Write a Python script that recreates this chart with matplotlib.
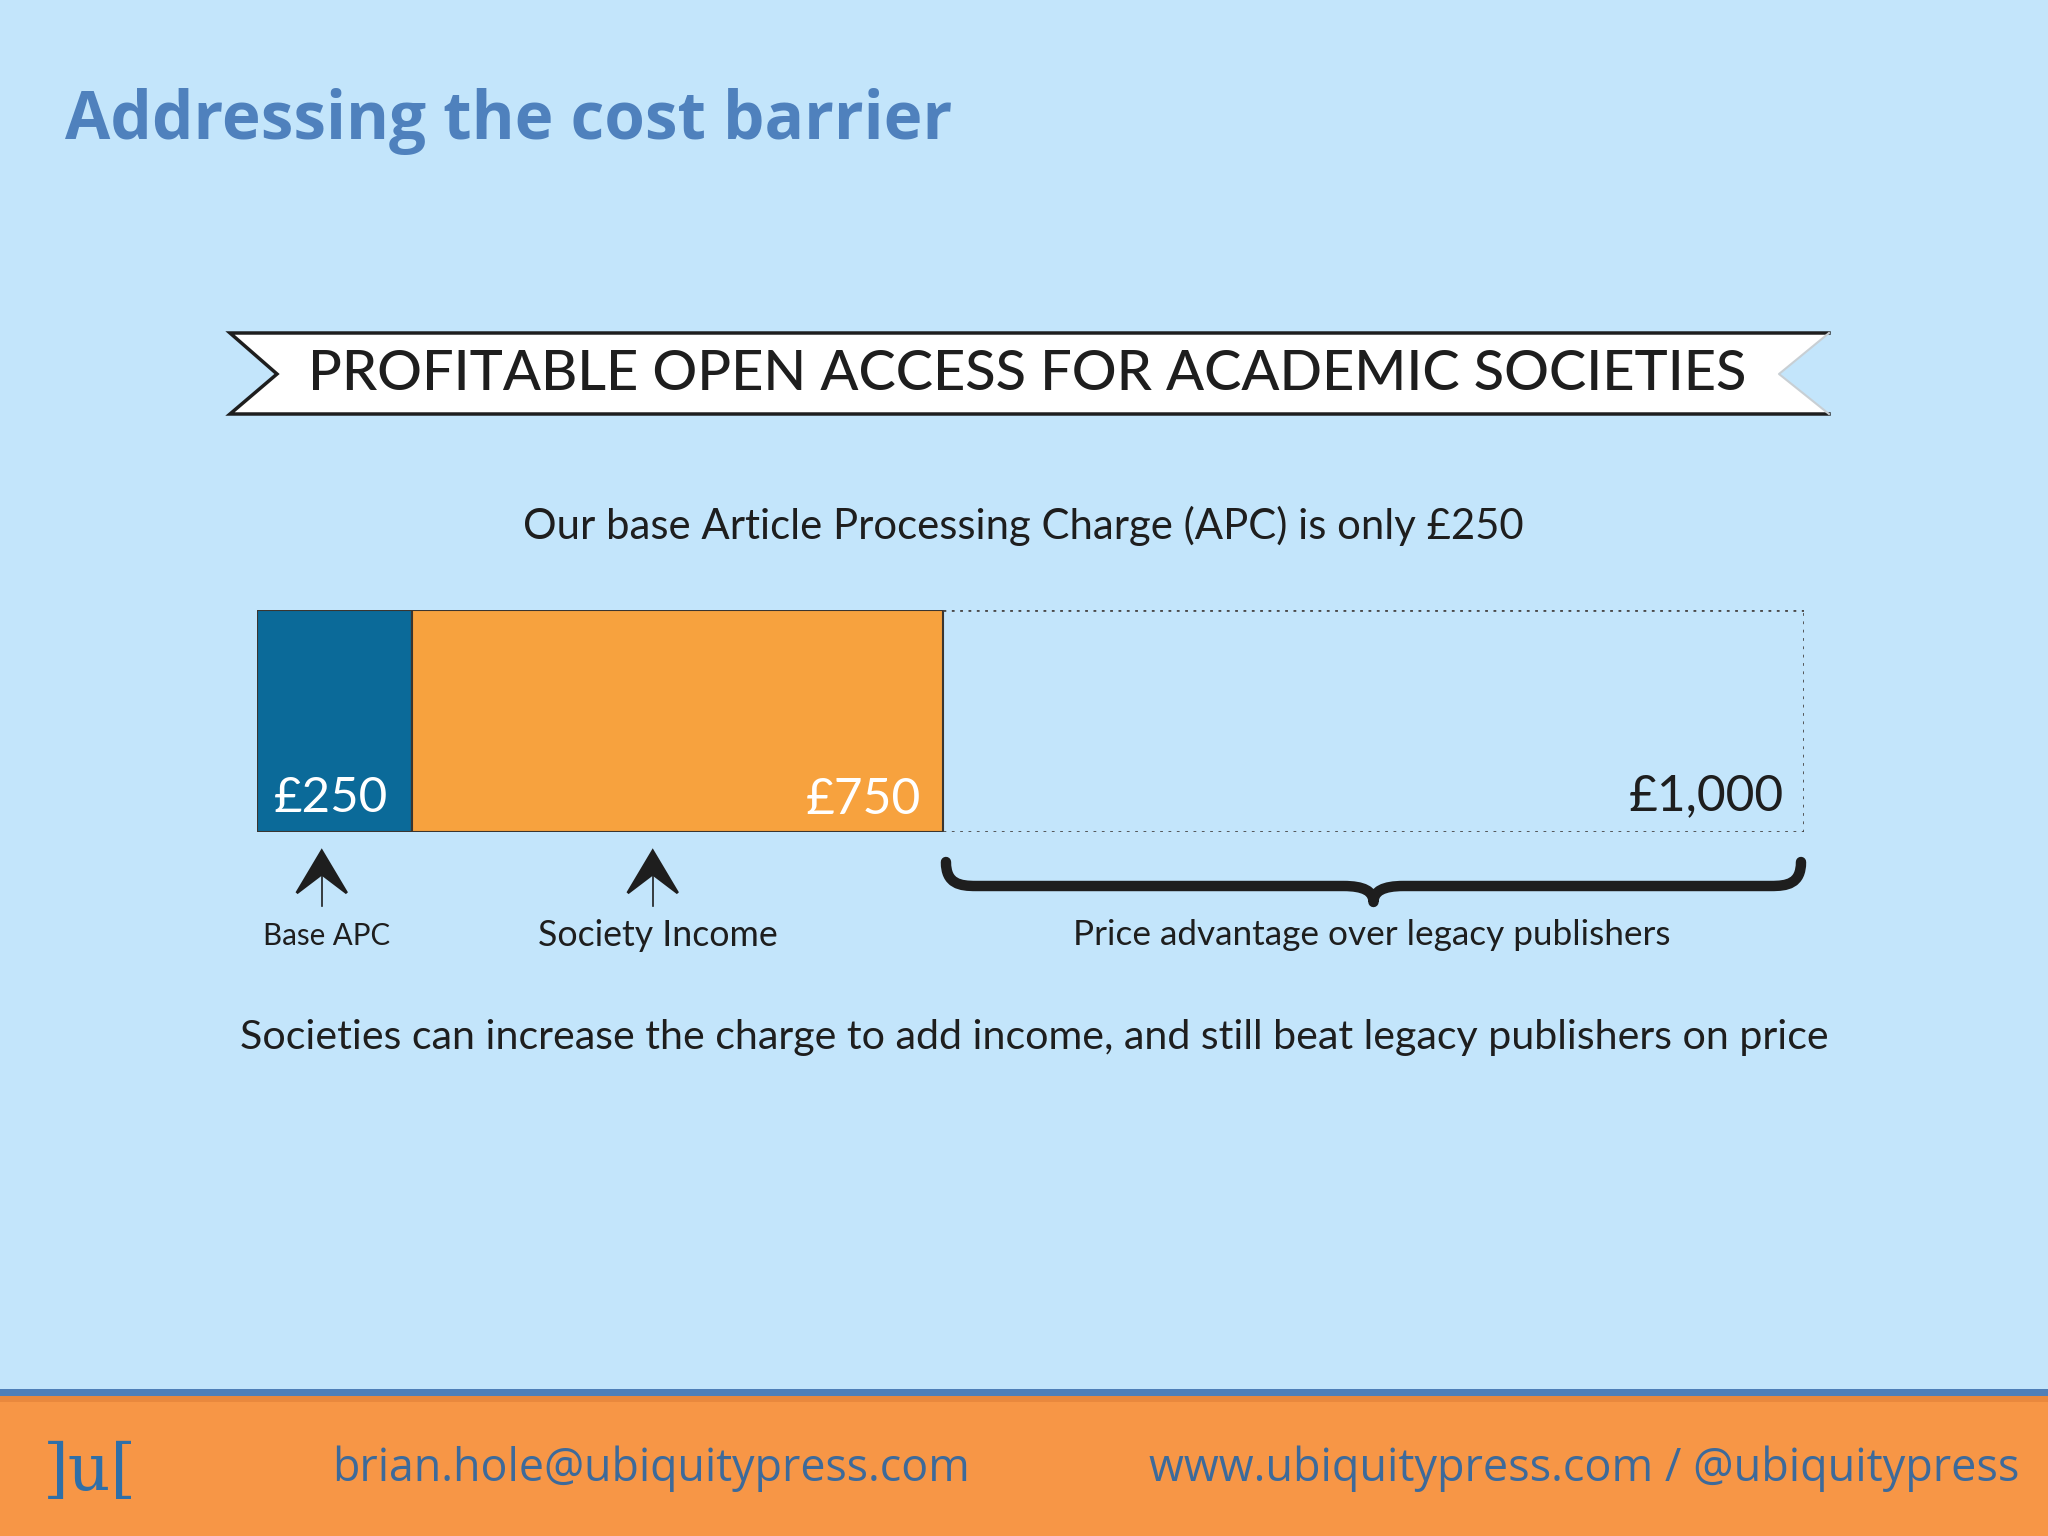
import numpy as np
import matplotlib
matplotlib.use("Agg")
import matplotlib.pyplot as plt
from matplotlib.patches import Polygon, Rectangle
from matplotlib.path import Path
from matplotlib.patches import PathPatch
from matplotlib.transforms import offset_copy

# values
segment_names = ["Base APC", "Society Income"]
segment_starts = [0, 250]
segment_widths = [250, 500]
segment_labels = ["£250", "£750"]
legacy_price = 1000
legacy_label = "£1,000"
advantage_label = "Price advantage over legacy publishers"

title = "Addressing the cost barrier"
banner = "PROFITABLE OPEN ACCESS FOR ACADEMIC SOCIETIES"
subtitle = "Our base Article Processing Charge (APC) is only £250"
footnote = "Societies can increase the charge to add income, and still beat legacy publishers on price"
email = "brian.hole@ubiquitypress.com"
web = "www.ubiquitypress.com / @ubiquitypress"

BG = "#c3e5fb"
BLUE = "#0b6a99"
ORANGE = "#f7a23e"
FOOT = "#f79646"
TITLE_C = "#4f81bd"
FOOT_TXT = "#3d6a9a"
INK = "#1e1e1e"

W, H = 2048, 1536
fig = plt.figure(figsize=(W / 100, H / 100), dpi=100)
fig.patch.set_facecolor(BG)

bg = fig.add_axes([0, 0, 1, 1])
bg.set_xlim(0, W)
bg.set_ylim(H, 0)
bg.axis("off")

renderer = fig.canvas.get_renderer()


def fit(t, width):
    bb = t.get_window_extent(renderer)
    t.set_fontsize(t.get_fontsize() * width / bb.width)
    return t


# slide title
t = bg.text(65, 139, title, fontsize=50, fontweight="bold", color=TITLE_C,
            family="Open Sans", ha="left", va="baseline")
fit(t, 888)

# ribbon banner
ribbon = [(230, 333), (1829, 333), (1779, 374), (1829, 414), (230, 414), (277, 374)]
bg.add_patch(Polygon(ribbon, closed=True, facecolor="white", edgecolor="none"))
bg.plot([1829, 230, 277, 230, 1829], [333, 333, 374, 414, 414], color=INK, lw=2.5,
        solid_joinstyle="miter")
bg.plot([1829, 1779, 1829], [333, 374, 414], color="#c8cfd4", lw=1.5)
t = bg.text(1027, 375, banner, fontsize=30, color=INK, family="Lato",
            fontweight="medium", ha="center", va="center")
fit(t, 1434)

t = bg.text(1023, 526, subtitle, fontsize=24, color=INK, family="Lato",
            ha="center", va="center")
fit(t, 1000)

# bar chart axes with a piecewise scale, like the original graphic
x0, x1, y0, y1 = 257, 1804, 610, 832
ax = fig.add_axes([x0 / W, 1 - y1 / H, (x1 - x0) / W, (y1 - y0) / H])
ax.patch.set_alpha(0)
brk_v = [0, 250, 750, 1000]
brk_f = [0, 119 / 1184, 525 / 1184, 1.0]


def fwd(v):
    return np.interp(v, brk_v, brk_f)


def inv(f):
    return np.interp(f, brk_f, brk_v)


ax.set_xscale("function", functions=(fwd, inv))
ax.set_xlim(0, legacy_price)
ax.set_ylim(-0.5, 0.5)
ax.axis("off")

ax.barh(0, segment_widths, left=segment_starts, height=1.0,
        color=[BLUE, ORANGE], edgecolor="#3a3530", linewidth=1.5)
end = segment_starts[-1] + segment_widths[-1]
ax.hlines([0.5, -0.5], end, legacy_price, colors="#4a4a4a", linestyles=(0, (1, 2)), lw=2)
ax.vlines(legacy_price, -0.5, 0.5, colors="#4a4a4a", linestyles=(0, (1, 2)), lw=2)

# value labels, offset in pixels from the segment edges
lab_y = -0.5 + 20 / (y1 - y0)
t = ax.text(segment_starts[0], lab_y, segment_labels[0], color="white",
            family="Lato", fontsize=30, ha="left", va="baseline",
            transform=offset_copy(ax.transData, fig=fig, x=17, y=0, units="dots"))
fit(t, 114)
t = ax.text(end, lab_y, segment_labels[1], color="white",
            family="Lato", fontsize=30, ha="right", va="baseline",
            transform=offset_copy(ax.transData, fig=fig, x=-22, y=-2, units="dots"))
fit(t, 115)
t = ax.text(legacy_price, lab_y, legacy_label, color=INK,
            family="Lato", fontsize=30, ha="right", va="baseline",
            transform=offset_copy(ax.transData, fig=fig, x=-20, y=2, units="dots"))
fit(t, 155)

# arrows under the segments, placed via the bar scale
centers = [s + w / 2 for s, w in zip(segment_starts, segment_widths)]
disp = ax.transData.transform([[c, 0] for c in centers])
px = bg.transData.inverted().transform(disp)[:, 0]
px = px - np.array([13, 25])
label_w = [127, 239]
for cx, name, lw_ in zip(px, segment_names, label_w):
    head = [(cx, 851), (cx + 25, 893), (cx, 874), (cx - 25, 893)]
    bg.add_patch(Polygon(head, closed=True, facecolor=INK, edgecolor=INK, lw=2,
                         joinstyle="miter"))
    bg.plot([cx, cx], [872, 906], color=INK, lw=1.2)
    t = bg.text(cx + 5, 936, name, color=INK, family="Lato", fontsize=20,
                ha="center", va="center")
    fit(t, lw_)

# brace over the price advantage
ends = ax.transData.transform([[end, 0], [legacy_price, 0]])
bx = bg.transData.inverted().transform(ends)[:, 0]
bl, br = bx[0] + 3, bx[1] - 3
bm = (bl + br) / 2
verts = [(bl, 862), (bl, 884), (bl + 14, 886), (bl + 30, 886),
         (bm - 30, 886), (bm - 10, 886), (bm, 891), (bm, 902),
         (bm, 891), (bm + 10, 886), (bm + 30, 886),
         (br - 30, 886), (br - 14, 886), (br, 884), (br, 862)]
codes = [Path.MOVETO, Path.CURVE4, Path.CURVE4, Path.CURVE4,
         Path.LINETO, Path.CURVE4, Path.CURVE4, Path.CURVE4,
         Path.CURVE4, Path.CURVE4, Path.CURVE4,
         Path.LINETO, Path.CURVE4, Path.CURVE4, Path.CURVE4]
bg.add_patch(PathPatch(Path(verts, codes), facecolor="none", edgecolor=INK,
                       lw=7.5, capstyle="round", joinstyle="round"))
t = bg.text(bm - 2, 935, advantage_label, color=INK, family="Lato", fontsize=20,
            ha="center", va="center")
fit(t, 598)

t = bg.text(1034, 1037, footnote, color=INK, family="Lato", fontsize=24,
            ha="center", va="center")
fit(t, 1588)

# footer band
bg.add_patch(Rectangle((0, 1395), W, H - 1395, facecolor=FOOT, edgecolor="none"))
bg.add_patch(Rectangle((0, 1389), W, 7, facecolor="#4f7fb8", edgecolor="none"))
bg.add_patch(Rectangle((0, 1396), W, 6, facecolor="#e07f38", edgecolor="none", alpha=0.6))
t = bg.text(43, 1472, "]u[", color="#2f6fa8", family="DejaVu Serif", fontsize=40,
            ha="left", va="center")
fit(t, 94)
t = bg.text(332, 1469, email, color=FOOT_TXT, family="Open Sans", fontsize=30,
            ha="left", va="center")
fit(t, 637)
t = bg.text(2019, 1469, web, color=FOOT_TXT, family="Open Sans", fontsize=30,
            ha="right", va="center")
fit(t, 870)

fig.savefig("out.png", dpi=100, facecolor=BG)
